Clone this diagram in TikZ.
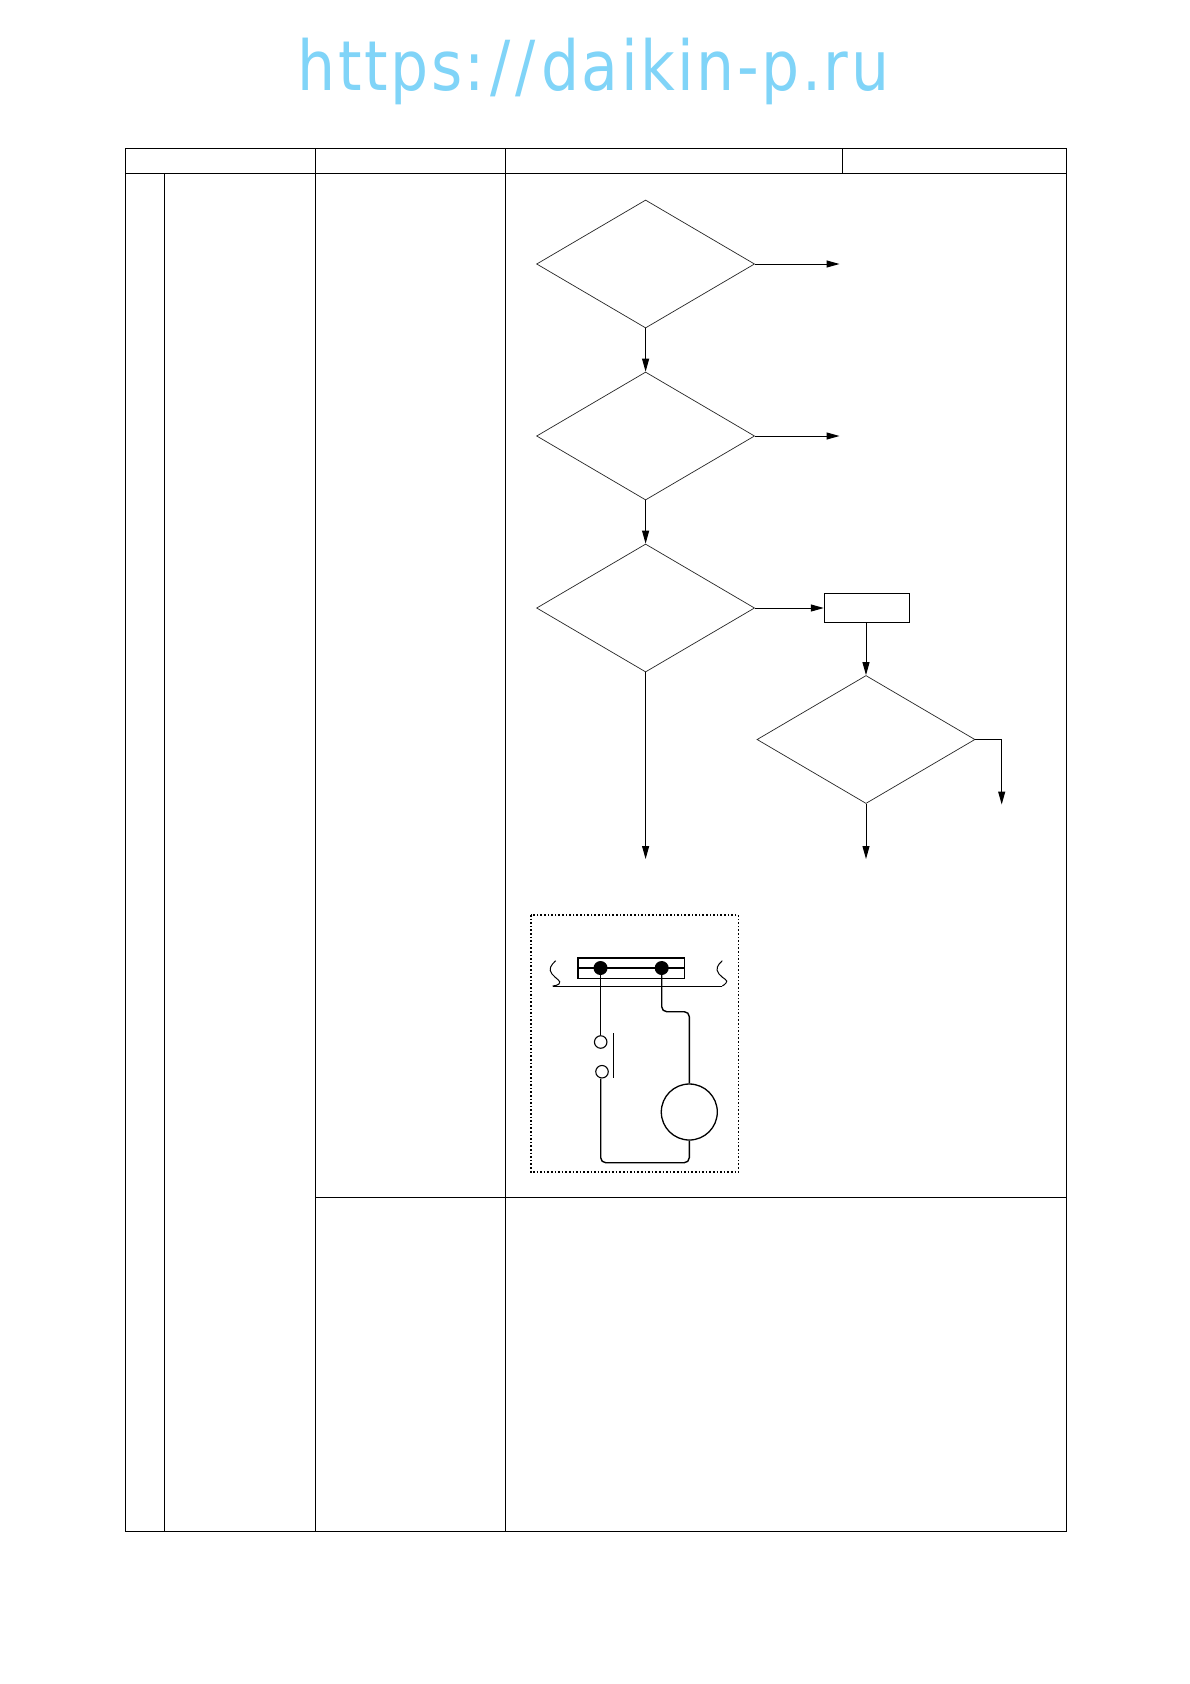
\documentclass[tikz,border=0pt]{standalone}
\usepackage{fontspec}
\newfontfamily\wmfont[LetterSpace=4.2]{DejaVu Sans}
\usetikzlibrary{shapes.geometric,arrows.meta}
\definecolor{wmblue}{HTML}{80D4F8}
\tikzset{
  x=1pt,y=-1pt,
  grid/.style={draw=black,line width=1pt},
  decision/.style={diamond,draw=black!85,line width=.7pt,inner sep=0pt,minimum width=218pt,minimum height=128pt,aspect=1.7},
  action/.style={rectangle,draw=black,line width=.9pt,inner sep=0pt,minimum width=85.5pt,minimum height=29pt},
  flow/.style={draw=black,line width=1pt,-{Triangle[length=13pt,width=7pt]}},
  wire/.style={draw=black,line width=1.4pt,rounded corners=5pt},
  contact/.style={circle,draw=black,line width=1.1pt,inner sep=0pt,minimum size=12.5pt},
  joint/.style={circle,fill=black,inner sep=0pt,minimum size=14pt},
}
\begin{document}
\begin{tikzpicture}
\useasboundingbox (0,0) rectangle (1190,1684);
\fill[white] (0,0) rectangle (1190,1684);
\node[wmblue,font=\wmfont\fontsize{69}{69}\selectfont,anchor=base,xscale=.87,transform shape,inner sep=0pt] (wm) at (593.4,90.7) {https:\kern6pt/\kern6pt/\kern6pt daikin-p.ru};
% table
\draw[grid] (125.5,148.5) rectangle (1066.5,1531.5);
\draw[grid] (125.5,173.5) -- (1066.5,173.5);
\draw[grid] (164.5,173.5) -- (164.5,1531.5);
\draw[grid] (315.5,148.5) -- (315.5,1531.5);
\draw[grid] (505.5,148.5) -- (505.5,1531.5);
\draw[grid] (842.7,148.5) -- (842.7,173.5);
\draw[grid] (315.5,1197.5) -- (1066.5,1197.5);
% flow chart
\node[decision] (d1) at (645.6,264) {};
\node[decision] (d2) at (645.6,436) {};
\node[decision] (d3) at (645.6,608) {};
\node[decision] (d4) at (866,739.5) {};
\node[action] (act) at (867,607.8) {};
\coordinate (e1) at (839.5,264);
\coordinate (e2) at (839.5,436);
\coordinate (e3) at (645.6,859);
\coordinate (e4) at (866,859);
\coordinate (e5) at (1001.7,804.5);
\draw[flow] (d1.east) -- (e1);
\draw[flow] (d2.east) -- (e2);
\draw[flow] (d1.south) -- (d2.north);
\draw[flow] (d2.south) -- (d3.north);
\draw[flow] (d3.east) -- (d3.east -| act.west);
\draw[flow] (d3.south) -- (e3);
\draw[flow] (act.south -| d4.north) -- (d4.north);
\draw[flow] (d4.south) -- (e4);
\draw[flow] (d4.east) -- (e5 |- d4.east) -- (e5);
% wiring inset
\draw[black,line width=1.6pt,dotted] (530.7,915) rectangle (738.3,1172);
\node[rectangle,draw=black,line width=1.5pt,inner sep=0pt,minimum width=106.5pt,minimum height=20.5pt] (term) at (631,968) {};
\draw[wire] (term.west) -- (term.east);
\node[joint] (j1) at (600.5,968) {};
\node[joint] (j2) at (661.7,968) {};
\coordinate (busl) at (552.7,986);
\coordinate (busr) at (722.3,986);
\draw[black,line width=.9pt] (busl) -- (busr);
\draw[black,line width=1pt] (555.7,960.7) .. controls (551,965) and (548,969) .. (552,974) .. controls (556,979) and (562,981) .. (559,984) .. controls (558,985) and (555,986) .. (busl);
\draw[black,line width=1pt] (722.3,960.7) .. controls (717.5,965) and (715,969) .. (719,974) .. controls (723,979) and (729,980) .. (726,983) .. controls (725,984.5) and (723,985.5) .. (busr);
\node[contact] (c1) at (600.7,1042) {};
\node[contact] (c2) at (602,1071.7) {};
\coordinate (bart) at (613.3,1033.3);
\coordinate (barb) at (613.3,1077.7);
\draw[black,line width=1.1pt] (bart) -- (barb);
\node[circle,draw=black,line width=1.3pt,inner sep=0pt,minimum size=56pt] (mot) at (689.3,1112) {};
\draw[wire] (j1.south -| c1.north) -- (c1.north);
\draw[wire] (c2.south -| c1.south) -- (600.7,1162.7) -- (689.3,1162.7) -- (mot.south);
\draw[wire] (j2.south) -- (661.7,1011.7) -- (689.3,1011.7) -- (mot.north);
\end{tikzpicture}
\end{document}
